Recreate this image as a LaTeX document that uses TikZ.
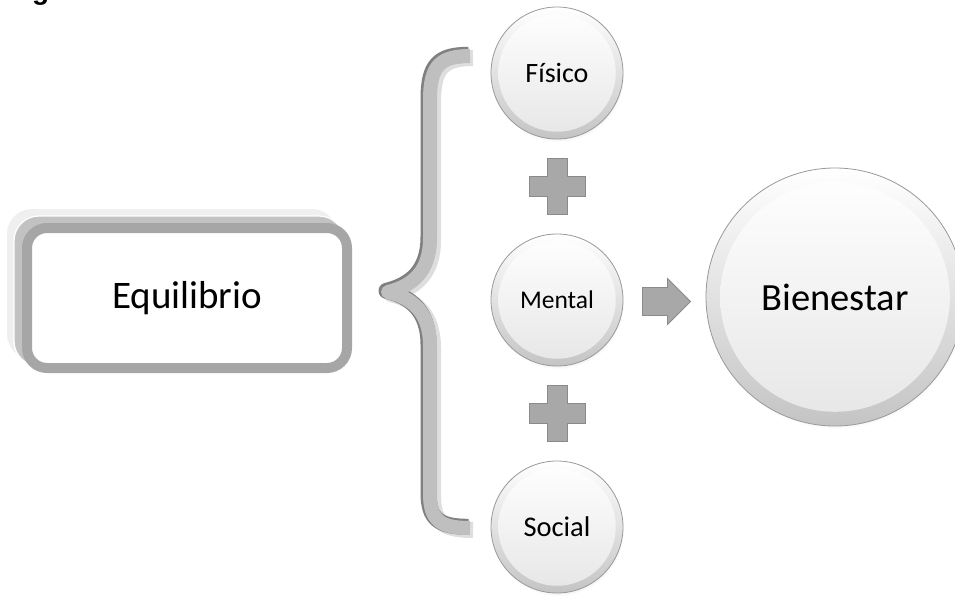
\documentclass[tikz,border=0pt]{standalone}
\usepackage{fontspec}
\setmainfont{Carlito}
\newfontfamily\capfont{Liberation Sans}
\usetikzlibrary{shadows,calc}
\definecolor{boxline}{HTML}{A6A6A6}
\definecolor{layerA}{HTML}{EFEFEF}
\definecolor{layerB}{HTML}{C2C2C2}
\definecolor{bracemain}{HTML}{BFBFBF}
\definecolor{bracedark}{HTML}{808080}
\definecolor{bracelight}{HTML}{DEDEDE}
\definecolor{ballline}{HTML}{999999}
\definecolor{ballrim}{HTML}{C4C4C4}
\definecolor{ballface}{HTML}{E6E6E6}
\definecolor{shapefill}{HTML}{A8A8A8}
\definecolor{shapeline}{HTML}{8A8A8A}
\tikzset{
  ball/.style={circle, inner sep=0pt, minimum size=#1, draw=ballline, line width=0.8pt,
    top color=white, bottom color=ballrim,
    circular drop shadow={shadow xshift=1pt, shadow yshift=-3pt, shadow scale=1.0, opacity=0.25},
    path picture={\shade[top color=white, bottom color=ballface] (path picture bounding box.center) circle[radius=0.445*#1];}},
  plusnode/.style={inner sep=0pt, minimum size=62pt,
    path picture={\filldraw[fill=shapefill, draw=shapeline, line width=0.8pt]
      ($(path picture bounding box.center)+(-28,-10)$) -- ++(18,0) -- ++(0,-18) -- ++(20,0) -- ++(0,18) -- ++(18,0) -- ++(0,20) -- ++(-18,0) -- ++(0,18) -- ++(-20,0) -- ++(0,-18) -- ++(-18,0) -- cycle;}},
  arrownode/.style={inner sep=0pt, minimum width=50pt, minimum height=50pt,
    path picture={\filldraw[fill=shapefill, draw=shapeline, line width=0.8pt]
      ($(path picture bounding box.center)+(-24,-14)$) -- ++(25,0) -- ++(0,-9) -- ++(23,23) -- ++(-23,23) -- ++(0,-9) -- ++(-25,0) -- cycle;}},
  eqbox/.style={rectangle, rounded corners=20pt, draw=boxline, line width=10pt, fill=white,
    minimum width=320pt, minimum height=140pt, inner sep=0pt},
  layer/.style={rounded corners=25pt},
  bracestroke/.style={line width=#1, line cap=butt, line join=round},
}
\begin{document}
\begin{tikzpicture}[x=1pt,y=-1pt]
\useasboundingbox (0,0) rectangle (955,595);
\begin{scope}
\clip (0,0) rectangle (955,595);
\fill[white] (0,0) rectangle (955,595);
% caption (cut off at the top, as in the reference)
\node[anchor=base west, inner sep=0pt, font=\capfont\bfseries\fontsize{28}{30}\selectfont] (cap) at (7,-0.5) {Figura 1. Salud};

% stacked layers behind Equilibrio
\fill[layerA, layer] (7,209) rectangle (337,359);
\filldraw[fill=layerB, draw=white, line width=1.2pt, layer] (14,216) rectangle (344,366);
\node[eqbox, font=\fontsize{39}{42}\selectfont] (equ) at (187,298) {Equilibrio};

% brace
\draw[bracestroke=16pt, bracelight, shift={(3,2)}] (470,56) .. controls (440,56) and (430,66) .. (430,100) -- (430,238) .. controls (430,272) and (412,286) .. (388,292) .. controls (412,298) and (430,312) .. (430,346) -- (430,494) .. controls (430,520) and (440,528) .. (470,528);
\draw[bracestroke=16pt, bracedark, shift={(-1.5,-1.2)}] (470,56) .. controls (440,56) and (430,66) .. (430,100) -- (430,238) .. controls (430,272) and (412,286) .. (388,292) .. controls (412,298) and (430,312) .. (430,346) -- (430,494) .. controls (430,520) and (440,528) .. (470,528);
\draw[bracestroke=14pt, bracemain] (470,56) .. controls (440,56) and (430,66) .. (430,100) -- (430,238) .. controls (430,272) and (412,286) .. (388,292) .. controls (412,298) and (430,312) .. (430,346) -- (430,494) .. controls (430,520) and (440,528) .. (470,528);

% circles
\node[ball=132pt, font=\fontsize{28}{30}\selectfont] (fis) at (557,73) {Físico};
\node[ball=132pt, font=\fontsize{25.5}{28}\selectfont] (men) at (557,300) {Mental};
\node[ball=132pt, font=\fontsize{28.5}{30}\selectfont] (soc) at (557,527) {Social};
\node[ball=258pt, font=\fontsize{38.5}{42}\selectfont] (bie) at (835,297) {Bienestar};

% plus signs between circles
\node[plusnode] (p1) at ($(fis)!0.5!(men)$) {};
\node[plusnode] (p2) at ($(men)!0.5!(soc)$) {};

% arrow from Mental to Bienestar
\node[arrownode] (arr) at ($(men.east)!0.5!(bie.west)+(2,3)$) {};
\end{scope}
\end{tikzpicture}
\end{document}
